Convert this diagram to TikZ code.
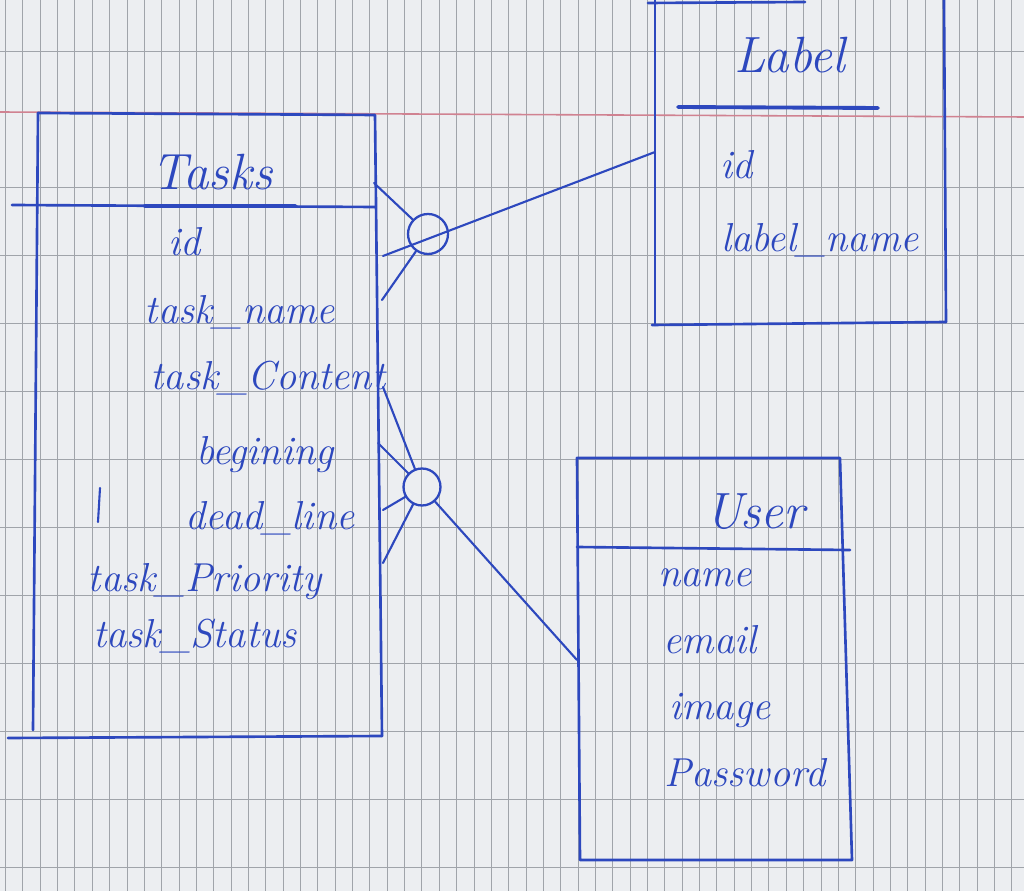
\documentclass[tikz,border=0pt]{standalone}
\definecolor{inkblue}{RGB}{45,72,190}
\definecolor{paper}{RGB}{236,238,241}
\definecolor{gridgrey}{RGB}{160,164,170}
\definecolor{marginred}{RGB}{208,130,145}
\begin{document}
\begin{tikzpicture}[x=0.02cm,y=-0.02cm,
  ink/.style={draw=inkblue,line width=1.5pt,line cap=round,line join=round},
  pen/.style={draw=inkblue,line width=1.2pt,line cap=round},
  gridline/.style={draw=gridgrey,line width=0.5pt},
  attr/.style={text=inkblue,font=\fontsize{23}{27}\selectfont\itshape,inner sep=0pt},
  ttl/.style={text=inkblue,font=\fontsize{29}{33}\selectfont\itshape,inner sep=0pt},
  knot/.style={circle,draw=inkblue,line width=1.3pt,inner sep=0pt}]
% paper
\fill[paper] (0,0) rectangle (1024,891);
\useasboundingbox (0,0) rectangle (1024,891);
\foreach \i in {0,...,58} \draw[gridline] ({5.5+17.35*\i},0) -- ({5.5+17.35*\i},891);
\foreach \j in {-1,1,2,3,4,5,6,7,8,9,10,11} \draw[gridline] (0,{119+68*\j}) -- (1024,{119+68*\j});
\draw[draw=marginred,line width=0.9pt] (0,112) -- (1024,117);

% ---- Tasks entity ----
\draw[ink] (38,113) -- (375,115) -- (382,736);
\draw[ink] (38,113) -- (33,730);
\draw[ink] (8,738) -- (382,736);
\draw[ink] (12,205) -- (375,207);
\draw[ink,line width=2.2pt] (145,206) -- (295,206);
\node[ttl]  (tasks) at (212,172) {Tasks};
\node[attr] (tid)   at (185,242) {id};
\node[attr] (tname) at (240,312) {task\_name};
\node[attr] (tcont) at (268,378) {task\_Content};
\node[attr] (tbeg)  at (265,455) {begining};
\node[attr] (tdead) at (270,518) {dead\_line};
\node[attr] (tprio) at (205,582) {task\_Priority};
\node[attr] (tstat) at (195,636) {task\_Status};
\draw[pen] (100,488) -- (98,522);

% ---- Label entity ----
\draw[ink] (648,3) -- (805,2);
\draw[ink] (655,0) -- (655,325);
\draw[ink] (944,0) -- (946,322);
\draw[ink] (652,325) -- (946,322);
\draw[ink,line width=2.2pt] (678,107) -- (878,108);
\node[ttl]  (label) at (790,55)  {Label};
\node[attr] (lid)   at (737,165) {id};
\node[attr] (lname) at (820,240) {label\_name};

% ---- User entity ----
\draw[ink] (577,458) -- (840,458) -- (852,860) -- (580,860) -- cycle;
\draw[ink] (577,547) -- (850,550);
\node[ttl]  (user)  at (755,512) {User};
\node[attr] (uname) at (705,578) {name};
\node[attr] (umail) at (710,640) {email};
\node[attr] (uimg)  at (720,710) {image};
\node[attr] (upass) at (745,773) {Password};

% ---- Tasks -- Label relation ----
\node[knot,minimum size=0.8cm] (k1) at (428,234) {};
\coordinate (t1a) at (374,183);
\coordinate (t1b) at (383,256);
\coordinate (t1c) at (382,300);
\coordinate (l1)  at (655,152);
\draw[pen] (t1a) -- (k1);
\draw[pen] (t1c) -- (k1);
\draw[pen] (t1b) -- (l1);

% ---- Tasks -- User relation ----
\node[knot,minimum size=0.74cm] (k2) at (422,487) {};
\coordinate (t2a) at (383,387);
\coordinate (t2b) at (378,443);
\coordinate (t2c) at (383,510);
\coordinate (t2d) at (383,563);
\coordinate (u1)  at (577,660);
\draw[pen] (t2a) -- (k2);
\draw[pen] (t2b) -- (k2);
\draw[pen] (t2c) -- (k2);
\draw[pen] (t2d) -- (k2);
\draw[pen] (k2) -- (u1);
\end{tikzpicture}
\end{document}
